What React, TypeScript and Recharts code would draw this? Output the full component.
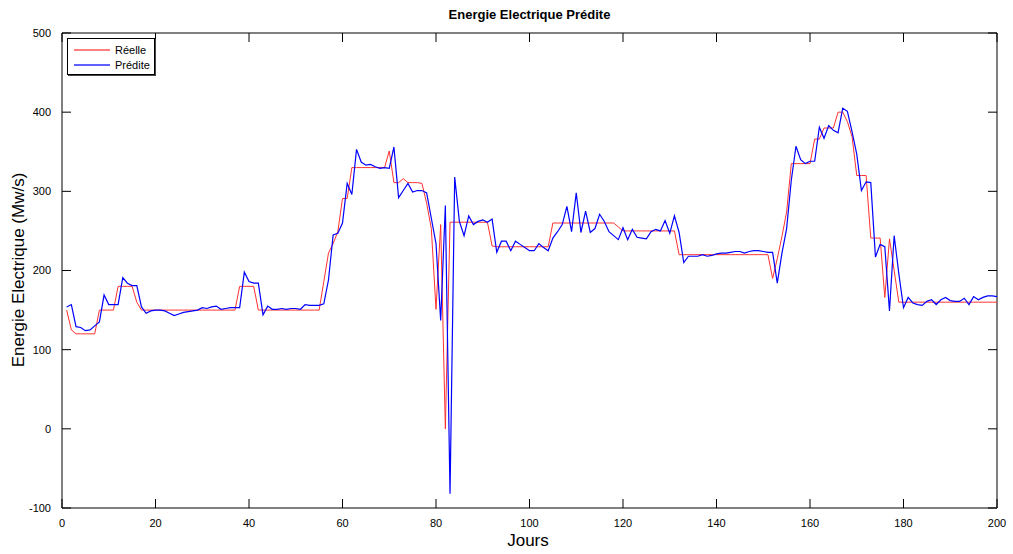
import React from 'react';
import { LineChart, Line, XAxis, YAxis, Legend, ReferenceLine } from 'recharts';

// valeurs, jour 1 a 200
const reelle = [
  150, 125, 120, 120, 120, 120, 120, 150, 150, 150,
  150, 180, 180, 180, 180, 160, 150, 150, 150, 150,
  150, 150, 150, 150, 150, 150, 150, 150, 150, 150,
  150, 150, 150, 150, 150, 150, 150, 180, 180, 180,
  180, 150, 150, 150, 150, 150, 150, 150, 150, 150,
  150, 150, 150, 150, 150, 186, 222, 234, 249, 291,
  291, 330, 330, 330, 330, 330, 330, 330, 330, 351,
  311, 311, 316, 311, 311, 311, 310, 285, 253, 151,
  258, 0, 261, 261, 261, 261, 261, 261, 261, 261,
  261, 231, 230, 230, 230, 230, 230, 230, 230, 230,
  230, 230, 230, 230, 260, 260, 260, 260, 260, 260,
  260, 260, 260, 260, 260, 260, 260, 260, 255, 250,
  250, 250, 250, 250, 250, 250, 250, 250, 250, 250,
  250, 220, 220, 220, 220, 220, 220, 220, 220, 220,
  220, 220, 220, 220, 220, 220, 220, 220, 220, 220,
  220, 190, 215, 243, 274, 335, 335, 335, 335, 335,
  366, 366, 380, 380, 380, 400, 400, 388, 369, 320,
  320, 320, 241, 241, 241, 166, 240, 200, 160, 160,
  160, 160, 160, 160, 160, 160, 160, 160, 160, 160,
  160, 160, 160, 160, 160, 160, 160, 160, 160, 160,
];

const predite = [
  154, 157, 129, 128, 124, 125, 130, 135, 169, 157,
  157, 157, 191, 184, 181, 181, 154, 146, 149, 150,
  150, 149, 146, 143, 145, 147, 148, 149, 150, 153,
  152, 154, 155, 151, 152, 153, 153, 153, 198, 186,
  184, 184, 144, 155, 151, 151, 152, 151, 152, 152,
  151, 157, 156, 156, 156, 158, 188, 245, 247, 260,
  310, 296, 353, 337, 333, 334, 331, 329, 330, 329,
  356, 292, 301, 310, 299, 301, 301, 298, 266, 234,
  137, 282, -82, 318, 262, 244, 269, 258, 262, 264,
  261, 265, 223, 237, 237, 225, 237, 233, 229, 225,
  225, 234, 229, 225, 241, 249, 258, 281, 249, 298,
  248, 275, 248, 253, 271, 262, 249, 244, 239, 254,
  239, 252, 242, 241, 240, 249, 252, 250, 263, 247,
  269, 248, 210, 218, 218, 218, 220, 218, 219, 221,
  222, 222, 223, 224, 224, 222, 224, 225, 225, 224,
  223, 223, 184, 222, 253, 314, 357, 340, 335, 338,
  338, 381, 367, 383, 377, 374, 405, 401, 375, 347,
  301, 312, 311, 217, 233, 230, 149, 244, 196, 153,
  166, 159, 157, 156, 161, 163, 157, 163, 166, 162,
  161, 161, 165, 157, 167, 163, 166, 168, 168, 167,
];

const xTicks = [0, 20, 40, 60, 80, 100, 120, 140, 160, 180, 200];
const yTicks = [-100, 0, 100, 200, 300, 400, 500];

const data = reelle.map((r, i) => ({ jour: i + 1, reelle: r, predite: predite[i] }));

const font = '"Liberation Sans", Arial, sans-serif';
const tickStyle = { fontSize: 11, fill: '#000', fontFamily: font };

// graduations interieures (~9px) en unites des axes
const xIn = 1.93;
const yIn = 11.4;

function LegendBox() {
  const items = [
    { label: 'Réelle', color: '#ff8080' },
    { label: 'Prédite', color: '#6060ff' },
  ];
  return (
    <div style={{
      width: 88, height: 37, border: '1px solid #000', boxShadow: '1px 1px 0 #444',
      background: '#fff', fontFamily: font, fontSize: 11, color: '#000', boxSizing: 'border-box',
      paddingTop: 3,
    }}>
      {items.map((it) => (
        <div key={it.label} style={{ display: 'flex', alignItems: 'center', height: 15, paddingLeft: 6 }}>
          <div style={{ width: 36, height: 0, borderTop: `2px solid ${it.color}`, marginRight: 5 }} />
          <span>{it.label}</span>
        </div>
      ))}
    </div>
  );
}

export default function App() {
  return (
    <div style={{ position: 'absolute', left: 0, top: 0, width: 1013, height: 554, background: '#fff' }}>
      <LineChart width={1013} height={554} data={data} margin={{ top: 33, right: 16, bottom: 16, left: 0 }}>
        <XAxis dataKey="jour" type="number" domain={[0, 200]} ticks={xTicks} height={30} interval={0}
          tickLine={false} tickMargin={5} tick={tickStyle} stroke="#000" allowDataOverflow />
        <YAxis type="number" domain={[-100, 500]} ticks={yTicks} width={62} interval={0}
          tickLine={false} tickMargin={5} tick={tickStyle} stroke="#000" allowDataOverflow />
        <ReferenceLine y={500} stroke="#000" ifOverflow="visible" />
        <ReferenceLine x={200} stroke="#000" ifOverflow="visible" />
        {xTicks.map((t) => (
          <ReferenceLine key={`xb${t}`} segment={[{ x: t, y: -100 }, { x: t, y: -100 + yIn }]} stroke="#000" ifOverflow="visible" />
        ))}
        {xTicks.map((t) => (
          <ReferenceLine key={`xt${t}`} segment={[{ x: t, y: 500 }, { x: t, y: 500 - yIn }]} stroke="#000" ifOverflow="visible" />
        ))}
        {yTicks.map((v) => (
          <ReferenceLine key={`yl${v}`} segment={[{ x: 0, y: v }, { x: xIn, y: v }]} stroke="#000" ifOverflow="visible" />
        ))}
        {yTicks.map((v) => (
          <ReferenceLine key={`yr${v}`} segment={[{ x: 200, y: v }, { x: 200 - xIn, y: v }]} stroke="#000" ifOverflow="visible" />
        ))}
        <Legend layout="vertical" align="center" verticalAlign="middle"
          wrapperStyle={{ position: 'absolute', left: 67, top: 38, width: 'auto', height: 'auto' }}
          content={() => <LegendBox />} />
        <Line dataKey="reelle" name="Réelle" stroke="#ff3030" strokeWidth={1} dot={false} isAnimationActive={false} />
        <Line dataKey="predite" name="Prédite" stroke="#0000ff" strokeWidth={1.2} dot={false} isAnimationActive={false} />
      </LineChart>
      <svg width={1013} height={554} style={{ position: 'absolute', left: 0, top: 0, pointerEvents: 'none' }}>
        <text x={529.5} y={19} textAnchor="middle" fontFamily={font} fontWeight="bold" fontSize={13}>
          Energie Electrique Prédite
        </text>
        <text transform="rotate(-90)" x={-270} y={24} textAnchor="middle" fontFamily={font} fontSize={17}>
          Energie Electrique (Mw/s)
        </text>
        <text x={528} y={546} textAnchor="middle" fontFamily={font} fontSize={17}>
          Jours
        </text>
      </svg>
    </div>
  );
}
